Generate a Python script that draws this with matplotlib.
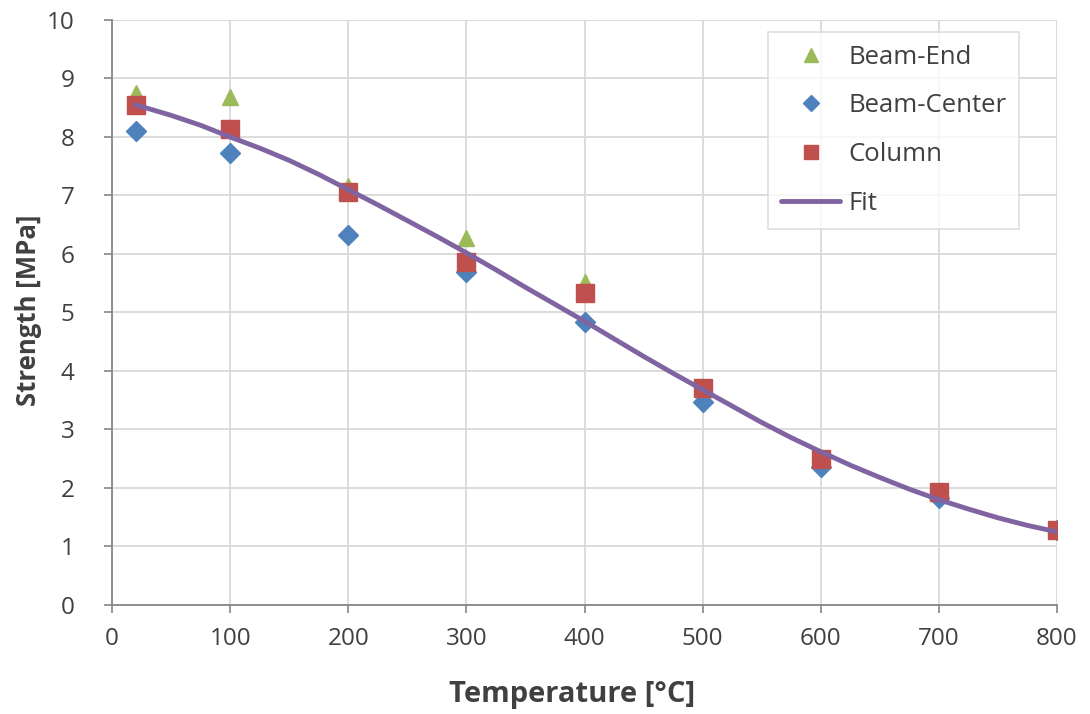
import numpy as np
import matplotlib.pyplot as plt

# temperatures of the test points
temps = [20, 100, 200, 300, 400, 500, 600, 700, 800]

beam_end = [8.75, 8.68, 7.16, 6.27, 5.52, 3.70, 2.50, 1.95, 1.28]
beam_center = [8.10, 7.73, 6.32, 5.69, 4.84, 3.47, 2.36, 1.83, 1.28]
column = [8.55, 8.14, 7.06, 5.86, 5.33, 3.71, 2.50, 1.93, 1.28]

# fit curve
fit_t = [20, 50, 75, 100, 125, 150, 175, 200, 225, 250, 275, 300, 325, 350, 375, 400,
         425, 450, 475, 500, 525, 550, 575, 600, 625, 650, 675, 700, 725, 750, 775, 800]
fit_s = [8.55, 8.37, 8.20, 8.00, 7.81, 7.60, 7.36, 7.10, 6.84, 6.57, 6.30, 6.02, 5.73,
         5.43, 5.14, 4.85, 4.55, 4.25, 3.96, 3.68, 3.40, 3.12, 2.86, 2.62, 2.39, 2.18,
         1.98, 1.80, 1.64, 1.49, 1.36, 1.25]

plt.rcParams['font.family'] = ['Open Sans', 'DejaVu Sans']

fig = plt.figure(figsize=(10.9, 7.14), dpi=100)
ax = fig.add_axes([0.1028, 0.1527, 0.8669, 0.8193])

ax.plot(temps, beam_end, linestyle='none', marker='^', markersize=12,
        color='#9BBB59', label='Beam-End', zorder=3)
ax.plot(temps, beam_center, linestyle='none', marker='D', markersize=10,
        color='#4F81BD', label='Beam-Center', zorder=3)
ax.plot(temps, column, linestyle='none', marker='s', markersize=12.5,
        color='#C0504D', label='Column', zorder=4)
ax.plot(fit_t, fit_s, color='#8064A2', linewidth=3.5, label='Fit', zorder=5,
        solid_capstyle='round', solid_joinstyle='round')

ax.set_xlim(0, 800)
ax.set_ylim(0, 10)
ax.set_xticks(np.arange(0, 801, 100))
ax.set_yticks(np.arange(0, 11, 1))
ax.grid(True, color='#d9d9d9', linewidth=1.3)
ax.set_axisbelow(True)
for s in ['top', 'right']:
    ax.spines[s].set_visible(False)
for s in ['left', 'bottom']:
    ax.spines[s].set_color('#868686')
    ax.spines[s].set_linewidth(1.3)
ax.tick_params(colors='#868686', labelcolor='#404040', labelsize=17.5, length=6, width=1.2)
ax.tick_params(axis='y', pad=21)
ax.tick_params(axis='x', pad=10)

ax.set_xlabel('Temperature [°C]', fontsize=21, fontweight='bold', color='#404040')
ax.xaxis.set_label_coords(0.487, -0.128)
ax.set_ylabel('Strength [MPa]', fontsize=18.5, fontweight='bold', color='#404040')
ax.yaxis.set_label_coords(-0.074, 0.503)

leg = ax.legend(loc='upper right', bbox_to_anchor=(0.9598, 0.9795), borderaxespad=0,
                fontsize=18.5, markerscale=0.8,
                frameon=True, fancybox=False, edgecolor='#d9d9d9',
                borderpad=0.5, labelspacing=0.92, handlelength=2.3, handletextpad=0.3)
leg.get_frame().set_linewidth(1.3)
for t in leg.get_texts():
    t.set_color('#404040')

fig.savefig('out.png', dpi=100)
